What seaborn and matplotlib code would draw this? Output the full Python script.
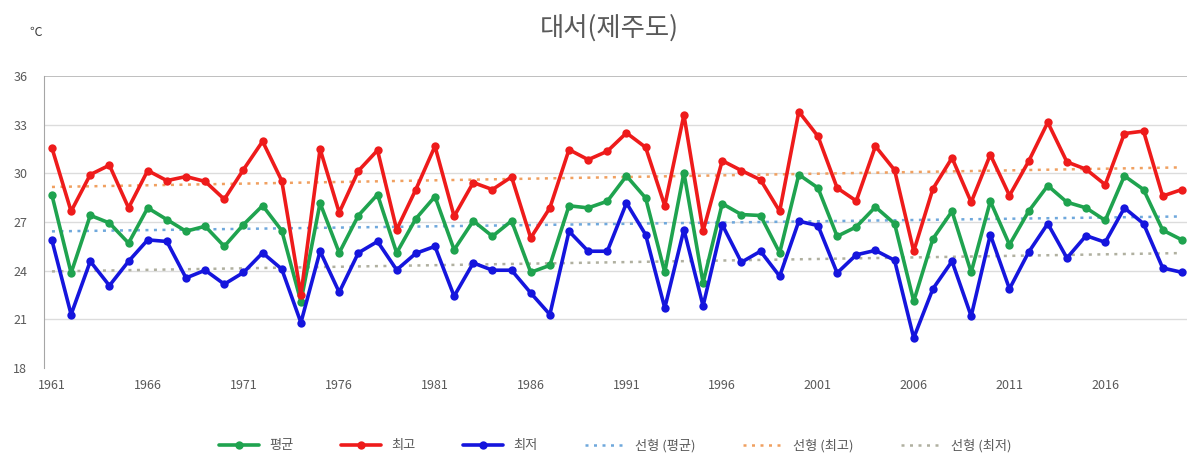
import matplotlib
matplotlib.use("Agg")
import matplotlib.pyplot as plt
import numpy as np
import pandas as pd
import seaborn as sns

years = list(range(1961, 2021))

avg_temp = [28.65, 23.86, 27.41, 26.94, 25.7, 27.87, 27.15, 26.43, 26.74, 25.5,
            26.84, 28.01, 26.47, 22.1, 28.17, 25.1, 27.4, 28.69, 25.1, 27.2,
            28.57, 25.29, 27.07, 26.12, 27.07, 23.9, 24.33, 28.0, 27.87, 28.28,
            29.84, 28.48, 23.9, 30.04, 23.25, 28.13, 27.46, 27.4, 25.1, 29.92,
            29.1, 26.12, 26.7, 27.93, 26.9, 22.12, 25.96, 27.66, 23.9, 28.28,
            25.6, 27.66, 29.24, 28.22, 27.87, 27.1, 29.84, 29.0, 26.5, 25.9]

max_temp = [31.56, 27.66, 29.92, 30.5, 27.87, 30.17, 29.55, 29.8, 29.5, 28.4,
            30.23, 31.97, 29.54, 22.5, 31.5, 27.58, 30.15, 31.42, 26.53, 29.0,
            31.67, 27.35, 29.43, 29.0, 29.78, 26.02, 27.87, 31.46, 30.84, 31.36,
            32.49, 31.6, 28.0, 33.6, 26.43, 30.78, 30.17, 29.6, 27.66, 33.8,
            32.28, 29.1, 28.3, 31.67, 30.2, 25.2, 29.04, 30.95, 28.22, 31.15,
            28.63, 30.74, 33.14, 30.7, 30.25, 29.3, 32.45, 32.6, 28.6, 29.0]

min_temp = [25.87, 21.3, 24.58, 23.08, 24.58, 25.9, 25.8, 23.55, 24.03, 23.17,
            23.89, 25.1, 24.1, 20.8, 25.2, 22.67, 25.1, 25.8, 24.05, 25.07,
            25.5, 22.43, 24.48, 24.03, 24.03, 22.63, 21.3, 26.43, 25.2, 25.2,
            28.17, 26.22, 21.7, 26.53, 21.83, 26.84, 24.52, 25.2, 23.66, 27.05,
            26.78, 23.86, 24.98, 25.25, 24.64, 19.86, 22.88, 24.58, 21.2, 26.22,
            22.88, 25.14, 26.9, 24.78, 26.16, 25.75, 27.87, 26.9, 24.17, 23.9]

series_names = ["평균", "최고", "최저"]
series_colors = ["#1fa34f", "#ee1b1b", "#1515dd"]
trend_colors = ["#6fa8dc", "#f0a060", "#b0b0a0"]
x_ticks = list(range(1961, 2020, 5))
y_ticks = [18, 21, 24, 27, 30, 33, 36]

df = pd.DataFrame({"year": years, "평균": avg_temp, "최고": max_temp, "최저": min_temp})

sns.set_style("white")
plt.rcParams["font.family"] = ["Noto Sans CJK KR", "DejaVu Sans"]

fig = plt.figure(figsize=(11.87, 4.63), dpi=100)
ax = fig.add_axes([0.037, 0.205, 0.963, 0.631])

for y in y_ticks[1:-1]:
    ax.axhline(y, color="#dcdcdc", lw=1, zorder=0)
ax.axhline(36, color="#b4b4b4", lw=1.2, zorder=0)

for name, color in zip(series_names, series_colors):
    sns.lineplot(data=df, x="year", y=name, ax=ax, color=color, lw=2.6,
                 marker="o", markersize=6, markeredgewidth=0, label=name, zorder=3)

# linear trend lines, like the spreadsheet's "선형" trendlines
for name, color in zip(series_names, trend_colors):
    sns.regplot(data=df, x="year", y=name, ax=ax, scatter=False, ci=None,
                color=color, line_kws=dict(ls=(0, (1.2, 2.2)), lw=1.8, zorder=2),
                label=f"선형 ({name})")

ax.set_xlim(1960.58, 2020.27)
ax.set_ylim(18, 36)
ax.set_xticks(x_ticks)
ax.set_yticks(y_ticks)
ax.set_xlabel("")
ax.set_ylabel("")
ax.tick_params(axis="both", labelsize=9, colors="#595959", length=0)
ax.tick_params(axis="x", pad=8)
ax.tick_params(axis="y", pad=12)
for side in ["top", "right", "bottom"]:
    ax.spines[side].set_visible(False)
ax.spines["left"].set_color("#a6a6a6")

fig.text(0.513, 0.94, "대서(제주도)", ha="center", va="center", fontsize=19, color="#595959")
fig.text(0.03, 0.93, "℃", ha="center", va="center", fontsize=9, color="#404040")

h, l = ax.get_legend_handles_labels()
ax.legend(h, l, loc="center", bbox_to_anchor=(0.5, -0.265), ncol=6, frameon=False,
          fontsize=9.5, handlelength=3, columnspacing=3.6, labelcolor="#595959")

fig.savefig("out.png", dpi=100)
